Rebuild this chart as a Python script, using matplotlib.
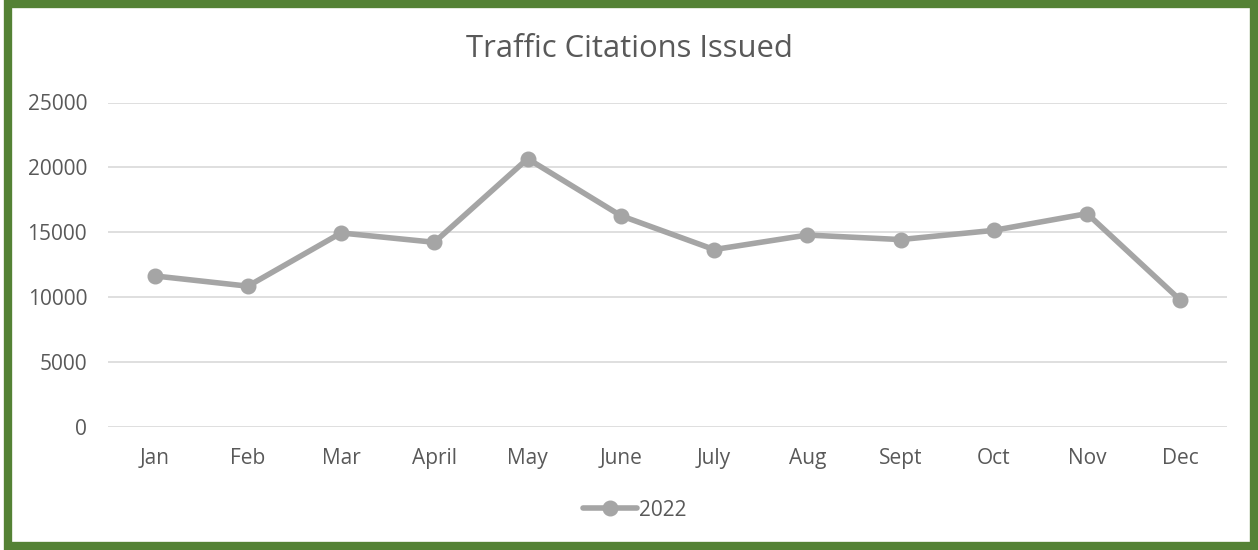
import matplotlib.pyplot as plt
from matplotlib.patches import Rectangle

months = ["Jan", "Feb", "Mar", "April", "May", "June", "July", "Aug", "Sept", "Oct", "Nov", "Dec"]
citations_2022 = [11640, 10850, 14950, 14230, 20670, 16280, 13670, 14790, 14440, 15150, 16440, 9770]
yticks = [0, 5000, 10000, 15000, 20000, 25000]

plt.rcParams['font.family'] = ['Open Sans', 'DejaVu Sans']

W, H = 1258, 550
fig = plt.figure(figsize=(W / 100, H / 100), dpi=100)
ax = fig.add_axes([108 / W, 1 - 427 / H, (1227 - 108) / W, (427 - 102.5) / H])

x = range(len(months))
ax.plot(x, citations_2022, color="#A5A5A5", lw=4, marker="o", ms=10.5,
        solid_capstyle="round", label="2022", zorder=3)

ax.set_xlim(-0.5, len(months) - 0.5)
ax.set_ylim(0, 25000)
ax.set_yticks(yticks)
ax.set_yticklabels([str(v) for v in yticks])
ax.set_xticks(list(x))
ax.set_xticklabels(months)
ax.grid(axis="y", color="#D9D9D9", lw=1.2)
ax.set_axisbelow(True)
for s in ax.spines.values():
    s.set_visible(False)
ax.tick_params(length=0, labelsize=15, colors="#595959")
ax.tick_params(axis="x", pad=15)
ax.tick_params(axis="y", pad=15)

fig.text(0.5, 1 - 49 / H, "Traffic Citations Issued", ha="center", va="center",
         fontsize=22.3, color="#595959")

leg = ax.legend(loc="center", bbox_to_anchor=((635 - 108) / (1227 - 108), (427 - 510) / (427 - 102.5)),
                frameon=False, fontsize=15, handlelength=2.6, handletextpad=0.1)
for t in leg.get_texts():
    t.set_color("#595959")

fig.patches.append(Rectangle((8 / W, 4 / H), (1254 - 8) / W, (546 - 4) / H,
                             transform=fig.transFigure, fill=False,
                             edgecolor="#548235", lw=6))

fig.savefig("out.png", dpi=100)
